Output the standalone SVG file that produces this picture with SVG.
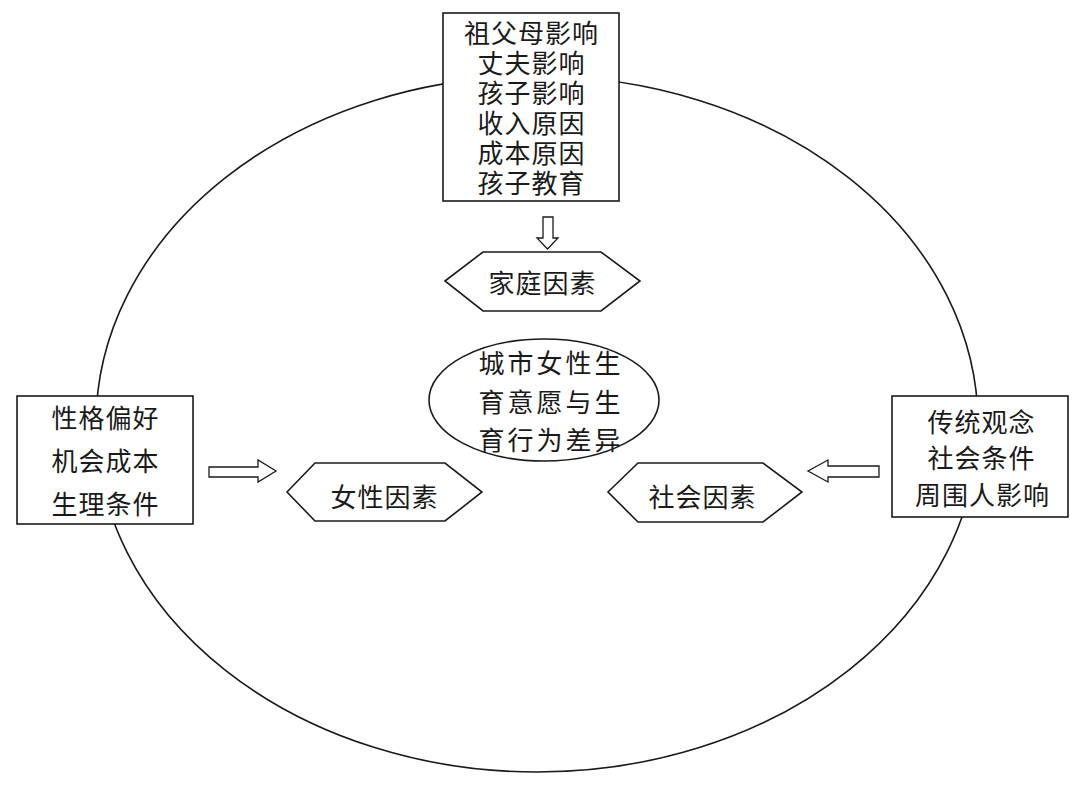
<svg xmlns="http://www.w3.org/2000/svg" width="1080" height="791" viewBox="0 0 1080 791">
<style>
.bg{fill:#ffffff}
.line{fill:none;stroke:#1a1a1a;stroke-width:1.6}
.box{fill:#ffffff;stroke:#1a1a1a;stroke-width:1.6}
.arrow{fill:#ffffff;stroke:#1a1a1a;stroke-width:1.3;stroke-linejoin:miter}
.t{font-family:"Noto Sans CJK SC","Noto Sans",sans-serif;font-size:26px;fill:#1a1a1a;text-anchor:middle;letter-spacing:1px}
.tc{letter-spacing:3px}
</style>
<rect class="bg" x="0" y="0" width="1080" height="791"/>
<g id="outer-ellipse">
<ellipse class="line" cx="537" cy="424" rx="441" ry="348"/>
</g>
<g id="connectors">
<polygon class="arrow" points="543,217 553,217 553,238 558,238 547.5,249 537,238 543,238"/>
<polygon class="arrow" points="209,467 258,467 258,460 276,471 258,482 258,477 209,477"/>
<polygon class="arrow" points="879,466 828,466 828,460 808,471 828,482 828,477 879,477"/>
</g>
<g id="family-box">
<rect class="box" x="443" y="13" width="176" height="188"/>
<text class="t" x="531.5" y="43">祖父母影响</text>
<text class="t" x="531.5" y="73">丈夫影响</text>
<text class="t" x="531.5" y="103">孩子影响</text>
<text class="t" x="531.5" y="133">收入原因</text>
<text class="t" x="531.5" y="163">成本原因</text>
<text class="t" x="531.5" y="193">孩子教育</text>
</g>
<g id="family-factor">
<polygon class="box" points="445,281 483,252 601,252 640,281 601,311 483,311"/>
<text class="t" x="542.5" y="293">家庭因素</text>
</g>
<g id="center">
<ellipse class="box" cx="544" cy="400" rx="115" ry="61"/>
<text class="t tc" x="551" y="373">城市女性生</text>
<text class="t tc" x="551" y="412">育意愿与生</text>
<text class="t tc" x="551" y="450">育行为差异</text>
</g>
<g id="female-box">
<rect class="box" x="17" y="396" width="176" height="128"/>
<text class="t" x="105.5" y="428">性格偏好</text>
<text class="t" x="105.5" y="471">机会成本</text>
<text class="t" x="105.5" y="514">生理条件</text>
</g>
<g id="female-factor">
<polygon class="box" points="287,492 315,463 445,463 482,492 445,521 315,521"/>
<text class="t" x="384.5" y="507">女性因素</text>
</g>
<g id="social-box">
<rect class="box" x="892" y="396" width="176" height="121"/>
<text class="t" x="981.5" y="432">传统观念</text>
<text class="t" x="981.5" y="468">社会条件</text>
<text class="t" x="982.5" y="505">周围人影响</text>
</g>
<g id="social-factor">
<polygon class="box" points="608,492 638,463 763,463 802,492 763,522 638,522"/>
<text class="t" x="702.5" y="507">社会因素</text>
</g>
</svg>
